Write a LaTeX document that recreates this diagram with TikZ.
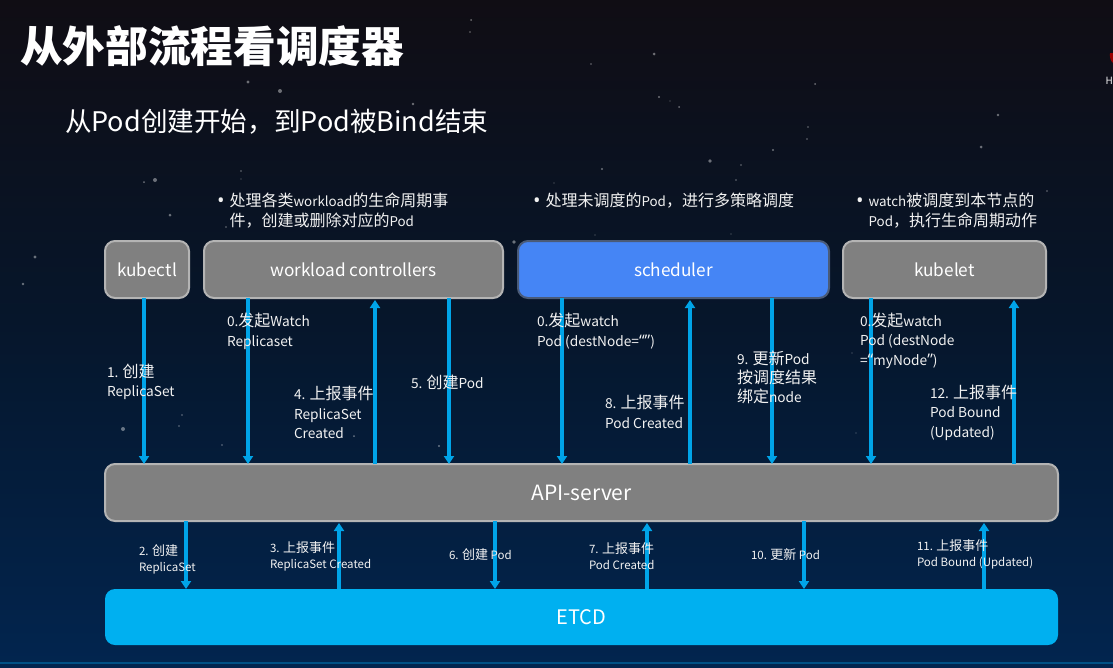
\documentclass[tikz,border=0pt]{standalone}
\usepackage{fontspec}
\setmainfont{Noto Sans CJK SC}
\newfontfamily\latinq{Open Sans}
\usetikzlibrary{arrows.meta}
\newcommand{\fs}[2]{\fontsize{#1}{#2}\selectfont}
\def\hsz{16}
\newcommand{\hz}[1]{{\fontsize{\hsz}{\baselineskip}\selectfont #1}}
\newcommand{\bul}[1]{\makebox[#1][l]{\latinq\fontsize{20}{20}\selectfont\raisebox{-1pt}{•}}}
\definecolor{boxgrey}{HTML}{808080}
\definecolor{boxedge}{HTML}{B4B4B4}
\definecolor{schedblue}{HTML}{4585F5}
\definecolor{schededge}{HTML}{4A5B78}
\definecolor{etcdblue}{HTML}{00B0F0}
\definecolor{arrowblue}{HTML}{00A4E8}
\definecolor{txt}{HTML}{F2F2F2}
\definecolor{bgtop}{HTML}{100D14}
\definecolor{bgmid}{HTML}{06162B}
\definecolor{bgbot}{HTML}{02254F}
\tikzset{
  box/.style={draw=boxedge,fill=boxgrey,line width=2pt,rounded corners=10pt,text=white,inner sep=0pt,outer sep=0pt},
  schedbox/.style={box,draw=schededge,fill=schedblue},
  etcdbox/.style={box,draw=none,fill=etcdblue},
  flow/.style={draw=arrowblue,line width=3.2pt},
  flowtip/.style={flow,-{Triangle[width=10pt,length=8pt]}},
  lbl/.style={text=txt,anchor=west,align=left,inner sep=0pt,outer sep=0pt},
  star/.style={fill=white,fill opacity=.4,draw=none},
  upper/.style={lbl,font=\fs{13.7}{#1}},
  upper/.default=20,
  lower/.style={lbl,font=\def\hsz{13}\fs{11.5}{16}},
}
\newcommand{\flowdown}[3]{\coordinate (fx) at (#3,0);\draw[flowtip] (#1.south -| fx) -- (#2.north -| fx);}
\newcommand{\flowup}[3]{\coordinate (fx) at (#3,0);\draw[flowtip] (#1.north -| fx) -- ([yshift=-2pt]#2.south -| fx);}
\begin{document}
\begin{tikzpicture}[x=1pt,y=-1pt]
\useasboundingbox (0,0) rectangle (1113,667);
\shade[top color=bgtop,bottom color=bgmid] (0,0) rectangle (1113,320);
\shade[top color=bgmid,bottom color=bgbot] (0,320) rectangle (1113,667);
\fill[arrowblue!35!bgbot] (0,661.5) rectangle (1113,663.5);
% stars
\foreach \sx/\sy/\sr in {248/82/1.6,280/91/2,413/104/1.3,155/180/2,144/182/1,170/215/1.5,35/257/1.6,23/284/1.3,514/242/1.8,471/20/1,470/32/.8,241/171/.8,241/179/.7,226/227/.8,654/54/1.5,591/64/.8,659/97/1.1,670/101/.7,679/107/1,815/84/1,998/115/1.3,808/127/.9,807/139/.9,773/150/1.2,710/161/1.9,741/165/.8,602/169/1.2,981/147/1.5,736/180/.8,1047/191/.8,554/183/.7,595/235/.7,731/234/.7,123/429/2,182/415/.9,179/426/.9,222/445/.9,354/436/1,439/446/1.2,852/353/.6,856/433/.6}
  {\fill[star] (\sx,\sy) circle (\sr);}
% corner logo fragment
\fill[red!60!black] (1113,53) -- (1110,53) .. controls (1109.5,57) and (1110.5,61) .. (1113,63) -- cycle;
\node[lbl,font=\fs{10}{12}] (logoh) at (1105.5,81) {H};
% main boxes
\node[box,minimum width=84pt,minimum height=57pt] (kubectl) at (147,269.5) {\fs{17.2}{20}kubectl};
\node[box,minimum width=299pt,minimum height=57pt] (workload) at (353.5,269.5) {\fs{17.2}{20}workload controllers};
\node[schedbox,minimum width=311pt,minimum height=57pt] (scheduler) at (673.5,269.5) {\fs{17.2}{20}scheduler};
\node[box,minimum width=203pt,minimum height=57pt] (kubelet) at (944.5,269.5) {\fs{17.2}{20}kubelet};
\node[box,minimum width=953pt,minimum height=57pt] (api) at (581.5,492.5) {\raisebox{-1.5pt}{\fs{21}{24}API-server}};
\node[etcdbox,minimum width=953pt,minimum height=56pt] (etcd) at (581.5,617) {\raisebox{-.5pt}{\fs{20}{24}ETCD}};
% connectors
\flowdown{kubectl}{api}{144}
\flowdown{workload}{api}{248}
\flowup{api}{workload}{375}
\flowdown{workload}{api}{449}
\flowdown{scheduler}{api}{562}
\flowup{api}{scheduler}{690}
\flowdown{scheduler}{api}{772}
\flowdown{kubelet}{api}{871}
\flowup{api}{kubelet}{1014}
\flowdown{api}{etcd}{186}
\flowup{etcd}{api}{339}
\flowdown{api}{etcd}{495}
\flowup{etcd}{api}{647}
\flowdown{api}{etcd}{804}
\flowup{etcd}{api}{984}
% titles
\node[lbl,text=white,font=\bfseries\fs{42.7}{48}] (title) at (20,46) {从外部流程看调度器};
\node[lbl,text=white,font=\def\hsz{26.6}\fs{27}{32}] (subtitle) at (65,122) {\hz{从}Pod\hz{创建开始，到}Pod\hz{被}Bind\hz{结束}};
% bullets
\node[lbl,font=\fs{13.4}{20}] (b1) at (217,211) {\bul{12.5pt}\hz{处理各类}workload\hz{的生命周期事}\\\hspace*{12.5pt}\hz{件，创建或删除对应的}Pod};
\node[lbl,font=\fs{13.4}{20}] (b2) at (533,201) {\bul{12.5pt}\hz{处理未调度的}Pod\hz{，进行多策略调度}};
\node[lbl,font=\fs{13.4}{20}] (b3) at (856,211) {\bul{12.5pt}watch\hz{被调度到本节点的}\\\hspace*{12.5pt}Pod\hz{，执行生命周期动作}};
% upper labels
\node[upper] (l0a) at (227,331) {0.\hz{发起}Watch\\Replicaset};
\node[upper=19] (l1) at (107,381.5) {1. \hz{创建}\\ReplicaSet};
\node[upper=19.5] (l4) at (294,412.5) {4. \hz{上报事件}\\ReplicaSet\\Created};
\node[upper] (l5) at (411,382) {5. \hz{创建}Pod};
\node[upper] (l0b) at (537,331) {0.\hz{发起}watch\\Pod (destNode={\latinq\fs{16}{20}“”})};
\node[upper] (l8) at (605,412) {8. \hz{上报事件}\\Pod Created};
\node[upper=19] (l9) at (737,377) {9. \hz{更新}Pod\\\hz{按调度结果}\\\hz{绑定}node};
\node[upper=19.5] (l0c) at (860,340.5) {0.\hz{发起}watch\\Pod (destNode\\={\latinq\fs{16}{20}“}myNode{\latinq\fs{16}{20}”})};
\node[upper=19.5] (l12) at (930,412.5) {12. \hz{上报事件}\\Pod Bound\\(Updated)};
% lower labels
\node[lower] (l2) at (139,559) {2. \hz{创建}\\ReplicaSet};
\node[lower] (l3) at (270,556) {3. \hz{上报事件}\\ReplicaSet Created};
\node[lower] (l6) at (449,555) {6. \hz{创建} Pod};
\node[lower] (l7) at (589,556) {7. \hz{上报事件}\\Pod Created};
\node[lower] (l10) at (751,555) {10. \hz{更新} Pod};
\node[lower] (l11) at (917,554) {11. \hz{上报事件}\\Pod Bound (Updated)};
\end{tikzpicture}
\end{document}
